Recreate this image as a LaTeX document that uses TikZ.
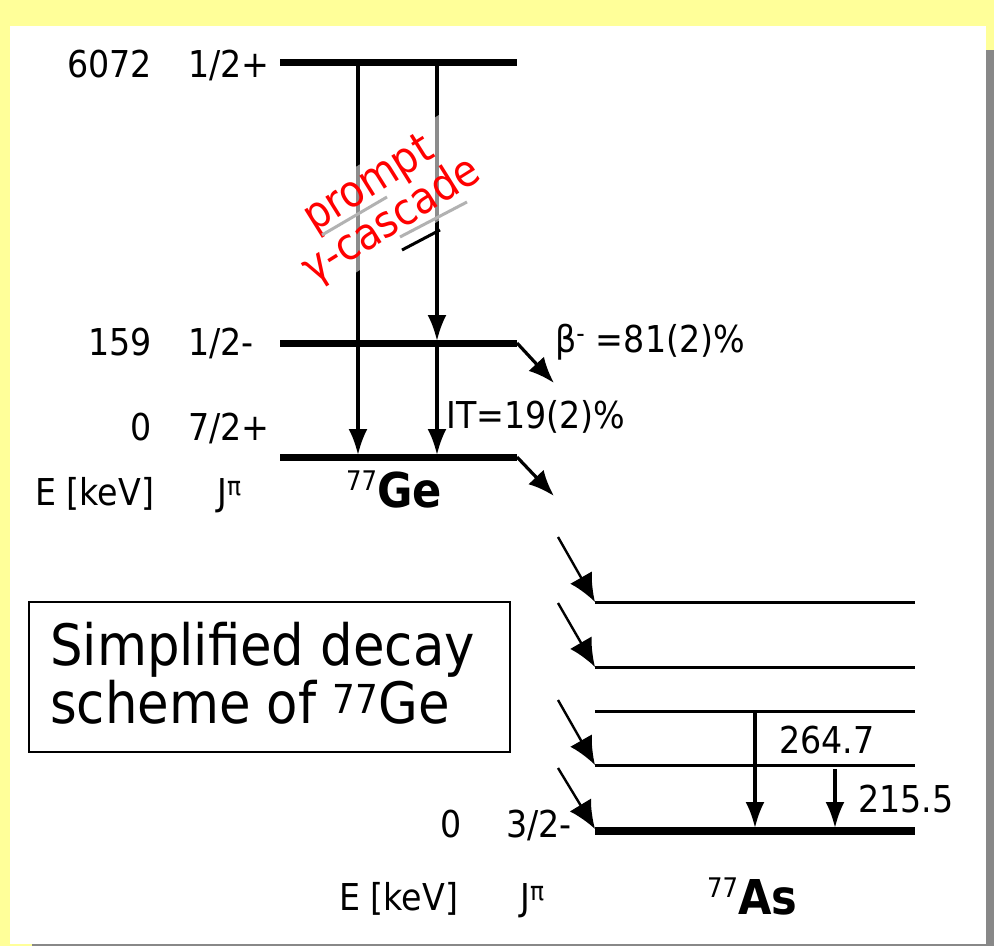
\documentclass[tikz,border=0pt]{standalone}
\usepackage{fontspec}
\setmainfont[FakeStretch=0.9]{DejaVu Sans}
\usetikzlibrary{arrows.meta}
\definecolor{bgyellow}{HTML}{FFFF99}
\definecolor{shadowgray}{HTML}{888888}
\definecolor{promptred}{HTML}{FF0000}
\begin{document}
\begin{tikzpicture}[x=1pt,y=-1pt,
  lvlthick/.style={line width=7pt},
  lvlthin/.style={line width=3pt},
  vtrans/.style={line width=3.2pt,-{Latex[length=26pt,width=19pt]}},
  gdecay/.style={line width=3.2pt,-{Latex[length=26pt,width=21pt]}},
  feed/.style={line width=2.4pt,-{Latex[length=28pt,width=25pt]}},
  lbl/.style={inner sep=0pt,font=\fontsize{37}{44}\selectfont},
  nuc/.style={inner sep=0pt,font=\fontsize{48}{52}\selectfont\bfseries},
  shadowseg/.style={draw=black!30,line width=3pt}
]
\useasboundingbox (0,0) rectangle (994,946);
\fill[bgyellow] (0,0) rectangle (994,946);
\fill[shadowgray] (32,50) rectangle (994,946);
\fill[white] (10,26) rectangle (986,944);

% ---- 77Ge levels
\coordinate (g6a) at (280,62);   \coordinate (g6b) at (517,62);
\coordinate (g1a) at (280,343);  \coordinate (g1b) at (517,343);
\coordinate (g0a) at (280,457);  \coordinate (g0b) at (517,457);
\draw[lvlthick] (g6a) -- (g6b);
\draw[lvlthick] (g1a) -- (g1b);
\draw[lvlthick] (g0a) -- (g0b);

\coordinate (c1top) at (358,66);  \coordinate (c1bot) at (358,455);
\coordinate (c2top) at (437,66);  \coordinate (c2bot) at (437,341);
\coordinate (ittop) at (437,346); \coordinate (itbot) at (437,455);
\draw[vtrans] (c1top) -- (c1bot);
\draw[vtrans] (c2top) -- (c2bot);
\draw[vtrans] (ittop) -- (itbot);

\coordinate (b1) at (554,383);
\coordinate (b0) at (554,496);
\draw[gdecay] (g1b) -- (b1);
\draw[gdecay] (g0b) -- (b0);

% ---- prompt gamma cascade label
\node[rotate=32,align=center,inner sep=3pt,text=promptred,fill=white,fill opacity=0.55,text opacity=1,
      font=\fontsize{44}{40}\selectfont] (prompt) at (381,204) {prompt\\γ-cascade};
\draw[shadowseg] (322,235) -- (387,197);
\draw[shadowseg] (400,237) -- (467,202);
\draw[line width=3pt] (402,250) -- (440,230);

% ---- Ge labels
\node[lbl,anchor=base east] (e6072) at (152,77) {6072};
\node[lbl,anchor=base west] (j6072) at (188,77) {1/2+};
\node[lbl,anchor=base east] (e159) at (152,355) {159};
\node[lbl,anchor=base west] (j159) at (188,355) {1/2-};
\node[lbl,anchor=base east] (e0ge) at (152,440) {0};
\node[lbl,anchor=base west] (j0ge) at (188,440) {7/2+};
\node[lbl,anchor=base west] (ekevge) at (35,505) {E [keV]};
\node[lbl,anchor=base west] (jpige) at (217,505) {J\textsuperscript{π}};
\node[nuc,anchor=base west] (ge) at (346,507) {\raisebox{17pt}{\fontsize{27}{28}\selectfont\mdseries 77}Ge};
\node[lbl,anchor=base west] (beta) at (555,352) {β\textsuperscript{-} =81(2)\%};
\node[lbl,anchor=base west] (it) at (446,428) {IT=19(2)\%};

% ---- 77As levels
\coordinate (a1a) at (595,602); \coordinate (a1b) at (915,602);
\coordinate (a2a) at (595,667); \coordinate (a2b) at (915,667);
\coordinate (a3a) at (595,711); \coordinate (a3b) at (915,711);
\coordinate (a4a) at (595,765); \coordinate (a4b) at (915,765);
\coordinate (a0a) at (595,831); \coordinate (a0b) at (915,831);
\draw[lvlthin] (a1a) -- (a1b);
\draw[lvlthin] (a2a) -- (a2b);
\draw[lvlthin] (a3a) -- (a3b);
\draw[lvlthin] (a4a) -- (a4b);
\draw[line width=8pt] (a0a) -- (a0b);

\coordinate (f1) at (558,537);
\coordinate (f2) at (558,603);
\coordinate (f4) at (558,700);
\coordinate (f0) at (558,768);
\draw[feed] (f1) -- (a1a);
\draw[feed] (f2) -- (a2a);
\draw[feed] (f4) -- (a4a);
\draw[feed] (f0) -- ([xshift=0pt,yshift=2pt]a0a);

\coordinate (t1top) at (755,712); \coordinate (t1bot) at (755,828);
\coordinate (t2top) at (835,769); \coordinate (t2bot) at (835,828);
\draw[vtrans] (t1top) -- (t1bot);
\draw[vtrans] (t2top) -- (t2bot);

\node[lbl,anchor=base west] (g264) at (779,753) {264.7};
\node[lbl,anchor=base west] (g215) at (858,812) {215.5};
\node[lbl,anchor=base east] (e0as) at (462,837) {0};
\node[lbl,anchor=base west] (j0as) at (506,837) {3/2-};
\node[lbl,anchor=base west] (ekevas) at (339,910) {E [keV]};
\node[lbl,anchor=base west] (jpias) at (520,910) {J\textsuperscript{π}};
\node[nuc,anchor=base west] (as) at (707,914) {\raisebox{17pt}{\fontsize{27}{28}\selectfont\mdseries 77}As};

% ---- caption box
\node[draw,line width=2pt,anchor=north west,minimum width=481pt,minimum height=150pt,inner sep=0pt] (box) at (28,601) {};
\node[inner sep=0pt,anchor=base west,font=\fontsize{57}{58}\selectfont] (cap1) at (50,665) {Simplified decay};
\node[inner sep=0pt,anchor=base west,font=\fontsize{57}{58}\selectfont] (cap2) at (50,723) {scheme of \textsuperscript{77}Ge};
\end{tikzpicture}
\end{document}
